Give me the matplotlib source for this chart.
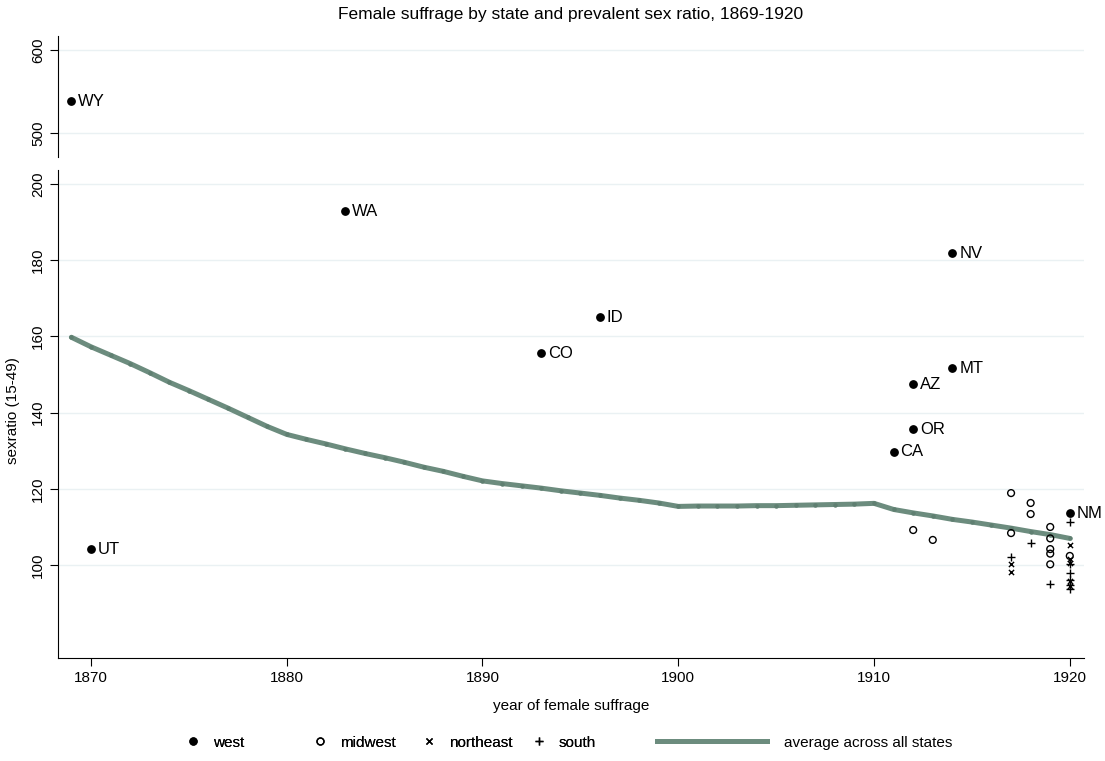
import matplotlib
matplotlib.use('Agg')
import matplotlib.pyplot as plt
from matplotlib.lines import Line2D

plt.rcParams['font.family'] = ['Liberation Sans', 'DejaVu Sans']

# west states (labelled)
west_states = ['WY', 'UT', 'WA', 'CO', 'ID', 'CA', 'OR', 'AZ', 'NV', 'MT', 'NM']
west_year = [1869, 1870, 1883, 1893, 1896, 1911, 1912, 1912, 1914, 1914, 1920]
west_ratio = [538.5, 104.2, 192.9, 155.6, 165.1, 129.7, 135.7, 147.5, 181.9, 151.7, 113.6]

midwest_year = [1912, 1913, 1917, 1917, 1918, 1918, 1919, 1919, 1919, 1919, 1919, 1920]
midwest_ratio = [109.2, 106.6, 118.9, 108.4, 116.3, 113.4, 110.0, 107.0, 104.2, 103.0, 100.2, 102.4]

northeast_year = [1917, 1917, 1920, 1920, 1920, 1920, 1920]
northeast_ratio = [100.3, 98.2, 105.2, 101.6, 100.6, 95.8, 94.5]

south_year = [1917, 1918, 1919, 1920, 1920, 1920, 1920, 1920, 1920]
south_ratio = [102.0, 105.8, 95.0, 111.3, 100.3, 98.0, 96.0, 94.8, 93.7]

avg_year = list(range(1869, 1921))
avg_ratio = [159.8, 157.3, 155.1, 152.9, 150.5, 148.0, 145.8, 143.5, 141.2, 138.8,
             136.4, 134.3, 133.0, 131.8, 130.5, 129.3, 128.2, 127.0, 125.7, 124.6,
             123.3, 122.1, 121.4, 120.8, 120.2, 119.5, 118.9, 118.3, 117.6, 117.0,
             116.3, 115.4, 115.5, 115.5, 115.5, 115.6, 115.6, 115.7, 115.8, 115.9,
             116.0, 116.2, 114.6, 113.7, 112.9, 112.0, 111.3, 110.5, 109.7, 108.8,
             108.0, 107.0]

line_col = '#6c8c7e'
grid_col = '#eaf1f3'

fig = plt.figure(figsize=(11.05, 7.61), dpi=100)
ax_top = fig.add_axes([0.0529, 0.7937, 0.928, 0.159])
ax = fig.add_axes([0.0529, 0.1353, 0.928, 0.6413])

xlim = (1868.34, 1920.72)
for a in (ax_top, ax):
    a.set_xlim(*xlim)
    for s in ('top', 'right'):
        a.spines[s].set_visible(False)
    a.grid(axis='y', color=grid_col, linewidth=1)
    a.set_axisbelow(True)
    a.tick_params(axis='y', labelrotation=90, labelsize=11, length=6)

ax_top.spines['bottom'].set_visible(False)
ax_top.set_xticks([])
ax_top.set_ylim(471, 617)
ax_top.set_yticks([500, 600])

ax.set_ylim(75.6, 203.7)
ax.set_yticks([100, 120, 140, 160, 180, 200])
ax.set_xticks([1870, 1880, 1890, 1900, 1910, 1920])
ax.tick_params(axis='x', labelsize=11, length=6)
for lab in ax.get_yticklabels() + ax_top.get_yticklabels():
    lab.set_va('center')

# average line
ax.plot(avg_year, avg_ratio, color=line_col, linewidth=3.6, marker='o',
        markersize=2.2, markerfacecolor='#5f7f71', markeredgecolor='#5f7f71',
        solid_capstyle='round', zorder=2)

# scatter points
ax.scatter(midwest_year, midwest_ratio, s=24, facecolors='none', edgecolors='black',
           linewidths=1.0, zorder=3)
ax.scatter(northeast_year, northeast_ratio, s=14, marker='x', color='black',
           linewidths=1.0, zorder=3)
ax.scatter(south_year, south_ratio, s=40, marker='+', color='black',
           linewidths=1.0, zorder=3)

for st, yr, r in zip(west_states, west_year, west_ratio):
    a = ax_top if r > 300 else ax
    a.scatter([yr], [r], s=28, color='black', zorder=4)
    a.annotate(st, (yr, r), xytext=(5, 0), textcoords='offset points',
               va='center', ha='left', fontsize=12)

fig.text(0.516, 0.981, 'Female suffrage by state and prevalent sex ratio, 1869-1920',
         ha='center', va='center', fontsize=12.5)
ax.set_xlabel('year of female suffrage', fontsize=11, labelpad=10)
fig.text(0.012, 0.46, 'sexratio (15-49)', rotation=90, ha='center', va='center', fontsize=11)

# legend keys, placed in fixed columns like the original
mark_handles = [
    Line2D([], [], linestyle='none', marker='o', markersize=5, color='black'),
    Line2D([], [], linestyle='none', marker='o', markersize=5, markerfacecolor='none',
           markeredgecolor='black'),
    Line2D([], [], linestyle='none', marker='x', markersize=4, color='black'),
    Line2D([], [], linestyle='none', marker='+', markersize=6, color='black'),
]
mark_labels = ['west', 'midwest', 'northeast', 'south']
col_x = [0.1692, 0.2842, 0.3828, 0.4824]
for h, lab, cx in zip(mark_handles, mark_labels, col_x):
    leg = fig.legend([h], [lab], loc='center left', bbox_to_anchor=(cx, 0.024),
                     frameon=False, fontsize=11, handlelength=0.8, handletextpad=0.9,
                     borderpad=0, borderaxespad=0)
    fig.add_artist(leg)
fig.legend([Line2D([], [], color=line_col, linewidth=3.6)], ['average across all states'],
           loc='center left', bbox_to_anchor=(0.595, 0.024), frameon=False, fontsize=11,
           handlelength=7.2, handletextpad=1.1, borderpad=0, borderaxespad=0)

fig.savefig('out.png', dpi=100)
